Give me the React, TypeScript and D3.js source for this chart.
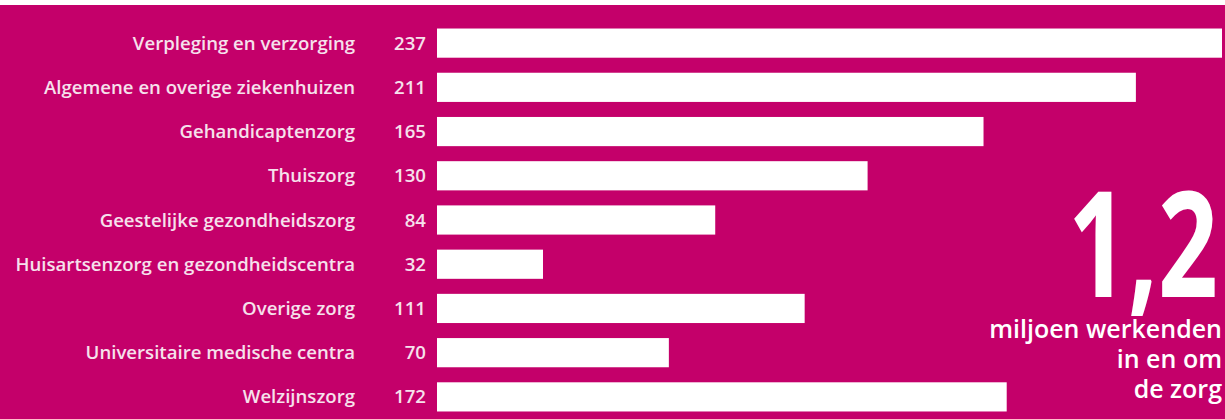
import React from "react";
import * as d3 from "d3";

const categories = [
  "Verpleging en verzorging",
  "Algemene en overige ziekenhuizen",
  "Gehandicaptenzorg",
  "Thuiszorg",
  "Geestelijke gezondheidszorg",
  "Huisartsenzorg en gezondheidscentra",
  "Overige zorg",
  "Universitaire medische centra",
  "Welzijnszorg",
];
const values = [237, 211, 165, 130, 84, 32, 111, 70, 172];
const bigNumber = "1,2";
const subtitleLines = ["miljoen werkenden", "in en om", "de zorg"];

const W = 1225;
const H = 419;
const BG = "#C4006A";
const TEXT = "#F6E1EC";

export default function App() {
  const x = d3.scaleLinear().domain([0, 237]).range([437, 1222]);
  const y = d3.scaleBand<string>().domain(categories).range([21, 419]).paddingInner(0.34).paddingOuter(0.17);
  const font = "'Open Sans', sans-serif";
  return (
    <svg width={W} height={H} style={{ position: "absolute", left: 0, top: 0, display: "block" }}>
      <rect x={0} y={0} width={W} height={H} fill="#fff" />
      <rect x={0} y={5} width={W} height={H - 5} fill={BG} />
      {categories.map((c, i) => {
        const yy = y(c)!;
        const bh = y.bandwidth();
        return (
          <g key={c}>
            <rect x={x(0)} y={yy} width={x(values[i]) - x(0)} height={bh} fill="#fff" />
            <text x={355} y={yy + bh / 2} dy="0.35em" textAnchor="end" fill={TEXT} fontFamily={font} fontWeight={600} fontSize={18.6}>
              {c}
            </text>
            <text x={426} y={yy + bh / 2} dy="0.35em" textAnchor="end" fill={TEXT} fontFamily={font} fontWeight={600} fontSize={18.6}>
              {values[i]}
            </text>
          </g>
        );
      })}
      <text x={1068} y={297} fill="#fff" fontFamily={font} fontWeight={700} fontSize={148} textLength={150} lengthAdjust="spacingAndGlyphs">
        {bigNumber}
      </text>
      {subtitleLines.map((l, i) => (
        <text key={l} x={1222} y={338 + i * 30} textAnchor="end" fill="#fff" fontFamily={font} fontWeight={600} fontSize={25}>
          {l}
        </text>
      ))}
    </svg>
  );
}
